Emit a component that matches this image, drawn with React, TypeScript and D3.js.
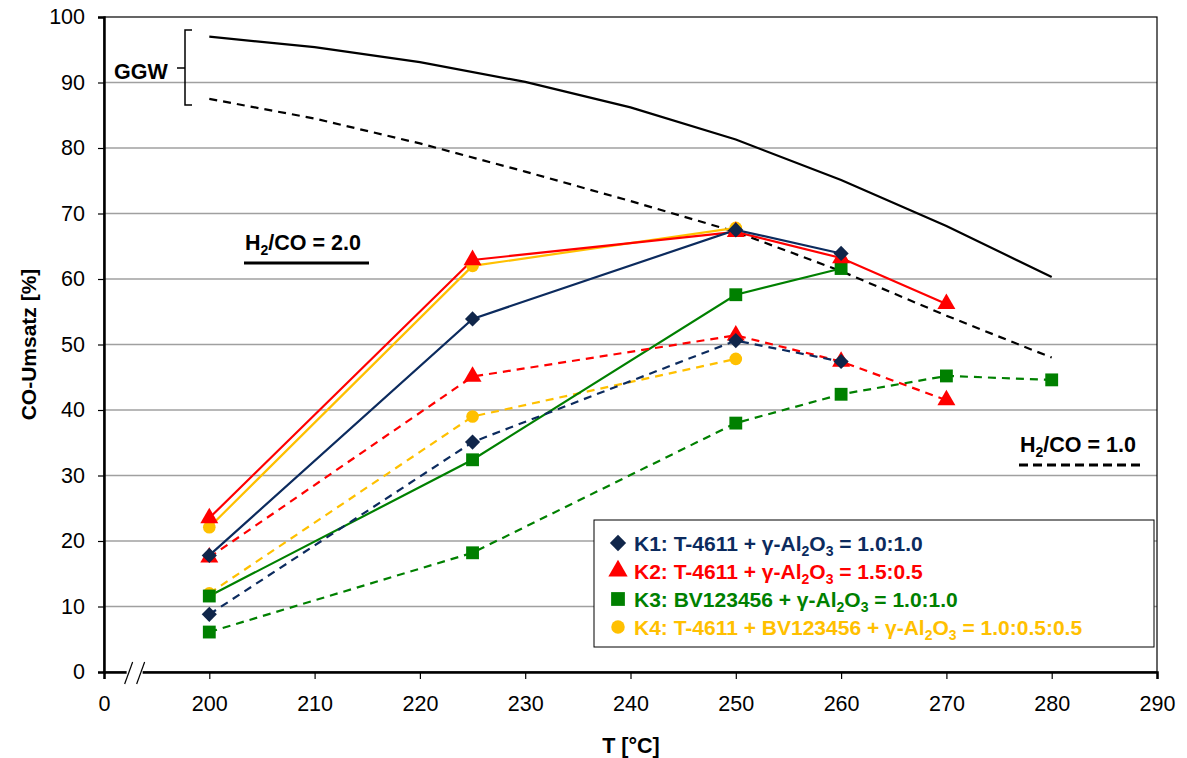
import React, { useEffect, useRef } from 'react';
import * as d3 from 'd3';

// temperature steps for the equilibrium (GGW) curves
const ggwT = [200, 210, 220, 230, 240, 250, 260, 270, 280];
const ggw20 = [97.0, 95.4, 93.1, 90.1, 86.2, 81.3, 75.1, 68.1, 60.3];
const ggw10 = [87.5, 84.5, 80.7, 76.4, 71.9, 67.2, 61.2, 54.4, 48.0];

// catalyst series: solid = H2/CO 2.0, dashed = H2/CO 1.0
const k1T20 = [200, 225, 250, 260];
const k1Val20 = [17.8, 53.9, 67.5, 63.9];
const k1T10 = [200, 225, 250, 260];
const k1Val10 = [8.8, 35.1, 50.6, 47.4];

const k2T20 = [200, 225, 250, 260, 270];
const k2Val20 = [23.5, 62.9, 67.2, 63.2, 56.2];
const k2T10 = [200, 225, 250, 260, 270];
const k2Val10 = [17.5, 45.1, 51.4, 47.4, 41.5];

const k3T20 = [200, 225, 250, 260];
const k3Val20 = [11.6, 32.4, 57.6, 61.6];
const k3T10 = [200, 225, 250, 260, 270, 280];
const k3Val10 = [6.1, 18.2, 38.0, 42.4, 45.2, 44.6];

const k4T20 = [200, 225, 250];
const k4Val20 = [22.1, 62.0, 67.8];
const k4T10 = [200, 225, 250];
const k4Val10 = [12.0, 39.0, 47.8];

const xTicks = [190, 200, 210, 220, 230, 240, 250, 260, 270, 280, 290];
const yTicks = [0, 10, 20, 30, 40, 50, 60, 70, 80, 90, 100];

const series = [
  { name: 'K1', color: '#0C2B5E', markColor: '#10264A', symbol: d3.symbolSquare, rot: 45, size: 115, t20: k1T20, v20: k1Val20, t10: k1T10, v10: k1Val10,
    label: [['K1: T-4611 + γ-Al', 0], ['2', 1], ['O', 0], ['3', 1], [' = 1.0:1.0', 0]] },
  { name: 'K2', color: '#FF0000', markColor: '#FF0000', symbol: d3.symbolTriangle, rot: 0, size: 140, t20: k2T20, v20: k2Val20, t10: k2T10, v10: k2Val10,
    label: [['K2: T-4611 + γ-Al', 0], ['2', 1], ['O', 0], ['3', 1], [' = 1.5:0.5', 0]] },
  { name: 'K3', color: '#008000', markColor: '#008000', symbol: d3.symbolSquare, rot: 0, size: 165, t20: k3T20, v20: k3Val20, t10: k3T10, v10: k3Val10,
    label: [['K3: BV123456 + γ-Al', 0], ['2', 1], ['O', 0], ['3', 1], [' = 1.0:1.0', 0]] },
  { name: 'K4', color: '#FFC000', markColor: '#FFC000', symbol: d3.symbolCircle, rot: 0, size: 125, t20: k4T20, v20: k4Val20, t10: k4T10, v10: k4Val10,
    label: [['K4: T-4611 + BV123456 + γ-Al', 0], ['2', 1], ['O', 0], ['3', 1], [' = 1.0:0.5:0.5', 0]] },
];

const FONT = 'Arial, "Liberation Sans", sans-serif';

export default function App() {
  const ref = useRef<SVGSVGElement>(null);

  useEffect(() => {
    const svg = d3.select(ref.current);
    svg.selectAll('*').remove();

    const left = 104, right = 1157, top = 17, bottom = 672;
    const x = d3.scaleLinear().domain([190, 290]).range([left, right]);
    const y = d3.scaleLinear().domain([0, 100]).range([bottom, top]);

    // gridlines
    svg.append('g').selectAll('line').data(yTicks.slice(1, -1)).join('line')
      .attr('x1', left).attr('x2', right)
      .attr('y1', d => y(d)).attr('y2', d => y(d))
      .attr('stroke', '#A0A0A0').attr('stroke-width', 1.3);

    // plot frame
    svg.append('rect').attr('x', left).attr('y', top).attr('width', right - left).attr('height', bottom - top)
      .attr('fill', 'none').attr('stroke', '#000').attr('stroke-width', 1.2);

    // axes
    const yAxis = svg.append('g').attr('transform', `translate(${left},0)`)
      .call(d3.axisLeft(y).tickValues(yTicks).tickSize(6).tickPadding(13));
    const xAxis = svg.append('g').attr('transform', `translate(0,${bottom})`)
      .call(d3.axisBottom(x).tickValues(xTicks).tickSize(7).tickPadding(17)
        .tickFormat(d => (d === 190 ? '0' : String(d))));
    [yAxis, xAxis].forEach(a => {
      a.select('.domain').attr('stroke', '#000').attr('stroke-width', 2.5);
      a.selectAll('.tick line').attr('stroke', '#000').attr('stroke-width', 1.2);
      a.selectAll('.tick text').attr('font-family', FONT).attr('font-size', 21.5).attr('fill', '#000');
    });

    // axis break
    const bx = x(193.1);
    svg.append('rect').attr('x', bx - 10).attr('y', bottom - 4).attr('width', 16).attr('height', 8).attr('fill', '#fff');
    [bx - 8, bx + 4].forEach(px => {
      svg.append('line').attr('x1', px - 4).attr('y1', bottom + 12).attr('x2', px + 4).attr('y2', bottom - 10)
        .attr('stroke', '#000').attr('stroke-width', 1.2);
    });

    const line = d3.line<[number, number]>().x(d => x(d[0])).y(d => y(d[1]));

    // equilibrium curves
    svg.append('path').attr('d', line(ggwT.map((t, i) => [t, ggw20[i]])))
      .attr('fill', 'none').attr('stroke', '#000').attr('stroke-width', 2.2);
    svg.append('path').attr('d', line(ggwT.map((t, i) => [t, ggw10[i]])))
      .attr('fill', 'none').attr('stroke', '#000').attr('stroke-width', 2.2).attr('stroke-dasharray', '8,6');

    // catalyst lines
    const drawOrder = [...series].reverse();
    drawOrder.forEach(s => {
      svg.append('path').attr('d', line(s.t10.map((t, i) => [t, s.v10[i]])))
        .attr('fill', 'none').attr('stroke', s.color).attr('stroke-width', 2.2).attr('stroke-dasharray', '8,6');
      svg.append('path').attr('d', line(s.t20.map((t, i) => [t, s.v20[i]])))
        .attr('fill', 'none').attr('stroke', s.color).attr('stroke-width', 2.2);
    });
    drawOrder.forEach(s => {
      const pts = [...s.t10.map((t, i) => [t, s.v10[i]]), ...s.t20.map((t, i) => [t, s.v20[i]])];
      svg.append('g').selectAll('path').data(pts).join('path')
        .attr('d', d3.symbol().type(s.symbol).size(s.size)())
        .attr('transform', d => `translate(${x(d[0])},${y(d[1])}) rotate(${s.rot})`)
        .attr('fill', s.markColor);
    });

    // GGW bracket
    const bk = svg.append('g').attr('stroke', '#000').attr('stroke-width', 1.5).attr('fill', 'none');
    bk.append('path').attr('d', `M192,30 H185 V105 H192`);
    bk.append('line').attr('x1', 177).attr('x2', 185).attr('y1', 68).attr('y2', 68);
    svg.append('text').attr('x', 114).attr('y', 79).text('GGW')
      .attr('font-family', FONT).attr('font-weight', 'bold').attr('font-size', 21.5);

    // H2/CO labels
    const h2co = (tx: number, ty: number, val: string, dashed: boolean) => {
      const t = svg.append('text').attr('x', tx).attr('y', ty)
        .attr('font-family', FONT).attr('font-weight', 'bold').attr('font-size', 21.5);
      t.append('tspan').text('H');
      t.append('tspan').text('2').attr('font-size', 14).attr('dy', 5);
      t.append('tspan').text('/CO = ' + val).attr('dy', -5);
      svg.append('line').attr('x1', tx - 1).attr('x2', tx + 124).attr('y1', ty + 13).attr('y2', ty + 13)
        .attr('stroke', '#000').attr('stroke-width', 2.8).attr('stroke-dasharray', dashed ? '9,5' : null);
    };
    h2co(245, 250, '2.0', false);
    h2co(1020, 452, '1.0', true);

    // legend
    const lg = svg.append('g');
    lg.append('rect').attr('x', 594).attr('y', 520).attr('width', 560).attr('height', 127)
      .attr('fill', '#fff').attr('stroke', '#000').attr('stroke-width', 1);
    series.forEach((s, i) => {
      const cy = 543 + i * 28;
      lg.append('path').attr('d', d3.symbol().type(s.symbol).size(s.size * 1.15)())
        .attr('transform', `translate(618,${cy}) rotate(${s.rot})`).attr('fill', s.markColor);
      const t = lg.append('text').attr('x', 634).attr('y', cy + 8)
        .attr('font-family', FONT).attr('font-weight', 'bold').attr('font-size', 21).attr('fill', s.color);
      let sub = 0;
      s.label.forEach(([txt, isSub]) => {
        const dy = isSub && !sub ? 5 : (!isSub && sub ? -5 : 0);
        t.append('tspan').text(txt as string).attr('dy', dy).attr('font-size', isSub ? 14 : 21);
        sub = isSub as number;
      });
    });

    // axis titles
    svg.append('text').attr('transform', `translate(36,${(top + bottom) / 2}) rotate(-90)`)
      .attr('text-anchor', 'middle').attr('font-family', FONT).attr('font-weight', 'bold').attr('font-size', 21)
      .text('CO-Umsatz [%]');
    svg.append('text').attr('x', 631).attr('y', 753)
      .attr('text-anchor', 'middle').attr('font-family', FONT).attr('font-weight', 'bold').attr('font-size', 21.5)
      .text('T [°C]');
  }, []);

  return (
    <svg ref={ref} width={1187} height={758} style={{ position: 'absolute', left: 0, top: 0, background: '#fff' }} />
  );
}
